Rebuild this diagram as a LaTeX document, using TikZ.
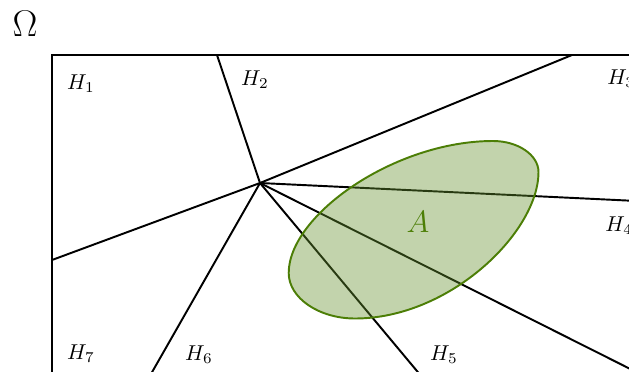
\documentclass[tikz,border=0pt]{standalone}
\usetikzlibrary{calc}
\definecolor{edgegreen}{RGB}{76,126,6}
\definecolor{fillgreen}{RGB}{102,145,47}
\tikzset{
  part/.style={line width=0.9pt, black},
  lab/.style={inner sep=0pt},
  setA/.style={draw=edgegreen, line width=0.9pt, fill=fillgreen, fill opacity=0.4, draw opacity=1}
}
\begin{document}
\begin{tikzpicture}[x=0.465pt,y=-0.465pt]
\useasboundingbox (0,0) rectangle (629,371);
\clip (0,0) rectangle (629,371);
% points
\coordinate (C) at (260,183);
\coordinate (T1) at (217,55);
\coordinate (T2) at (572,55);
\coordinate (L1) at (52,260);
\coordinate (R1) at (700,204);
\coordinate (R2) at (700,404);
\coordinate (B1) at (437,395);
\coordinate (B2) at (139,395);
% domain
\draw[part] (52,480) -- (52,55) -- (760,55);
% partition lines
\draw[part] (C) -- (T1);
\draw[part] (C) -- (T2);
\draw[part] (C) -- (L1);
\draw[part] (C) -- (R1);
\draw[part] (C) -- (R2);
\draw[part] (C) -- (B1);
\draw[part] (C) -- (B2);
% set A
\coordinate (At) at (493,141);
\coordinate (Ar) at (538.5,172);
\coordinate (Ab) at (355,318.5);
\coordinate (Al) at (288.7,273);
\path[setA] (At) .. controls (518,141) and (538.5,155) .. (Ar)
  .. controls (538.5,232) and (450,318.5) .. (Ab)
  .. controls (319,318.5) and (288.7,298) .. (Al)
  .. controls (288.7,215) and (395,141) .. (At) -- cycle;
\node[lab, text=edgegreen] (A) at (418,222) {\Large$A$};
% labels
\node[lab] (Om) at (25,24) {\LARGE$\Omega$};
\node[lab] (h1) at (81,84) {$H_1$};
\node[lab] (h2) at (255,80) {$H_2$};
\node[lab, anchor=west] (h3) at (607,79) {$H_3$};
\node[lab, anchor=west] (h4) at (605,226) {$H_4$};
\node[lab] (h5) at (444,355) {$H_5$};
\node[lab] (h6) at (199,355) {$H_6$};
\node[lab] (h7) at (81,354) {$H_7$};
\end{tikzpicture}
\end{document}
